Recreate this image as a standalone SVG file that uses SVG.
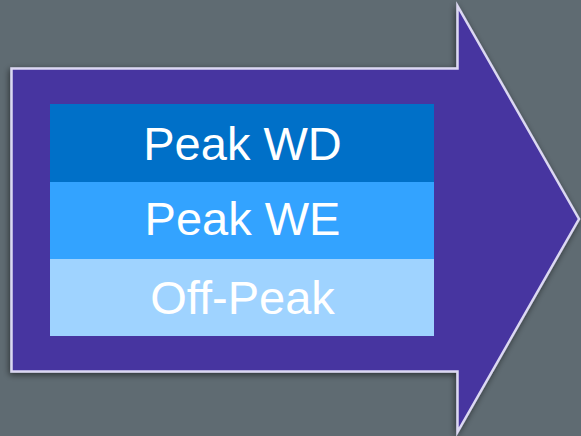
<svg xmlns="http://www.w3.org/2000/svg" width="581" height="436" viewBox="0 0 581 436">
<style>
.lbl{font-family:"Liberation Sans",Arial,sans-serif;font-size:47px;fill:#ffffff;text-anchor:middle}
</style>
<defs>
<filter id="sh" x="-10%" y="-10%" width="120%" height="120%">
<feDropShadow dx="-1" dy="2" stdDeviation="3" flood-color="#000000" flood-opacity="0.55"/>
</filter>
</defs>
<rect width="581" height="436" fill="#5f6b72"/>
<g id="arrow">
<path d="M11.5,68.5 H457.5 V6 L579,219 L457.5,432 V371.5 H11.5 Z" fill="#4636a0" stroke="#dcd8f2" stroke-width="2.5" stroke-linejoin="miter" filter="url(#sh)"/>
</g>
<g id="peak-wd">
<rect x="50" y="104" width="384" height="78" fill="#0070c8"/>
<text class="lbl" x="242.5" y="160">Peak WD</text>
</g>
<g id="peak-we">
<rect x="50" y="182" width="384" height="77" fill="#33a3ff"/>
<text class="lbl" x="242.5" y="235">Peak WE</text>
</g>
<g id="off-peak">
<rect x="50" y="259" width="384" height="77" fill="#9fd3ff"/>
<text class="lbl" x="242.5" y="314">Off-Peak</text>
</g>
<g id="connectors"/>
</svg>
